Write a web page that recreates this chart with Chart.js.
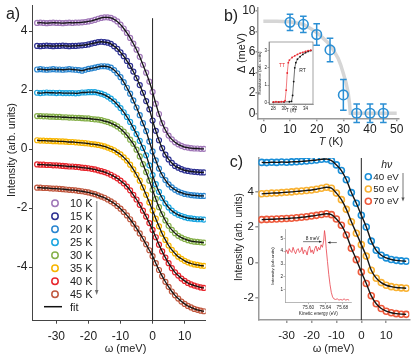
<!DOCTYPE html>
<html>
<head>
<meta charset="utf-8">
<title>Superconducting gap vs temperature</title>
<script src="https://cdn.jsdelivr.net/npm/chart.js@4.4.1/dist/chart.umd.min.js"></script>
<style>
  body { margin: 0; background: #fff; }
  #fig { position: relative; width: 415px; height: 359px; overflow: hidden; background: #fff;
         font-family: "Liberation Sans", Arial, sans-serif; color: #222; }
  #fig canvas, #fig svg { position: absolute; }
  .lbl { position: absolute; white-space: nowrap; line-height: 1; }
</style>
</head>
<body>
<div id="fig">
  <canvas id="chartA" width="211" height="359" style="left:0px;top:0px"></canvas>
  <canvas id="chartB" width="210" height="148" style="left:205px;top:0px"></canvas>
  <canvas id="insetB" width="62" height="80" style="left:255px;top:38px"></canvas>
  <canvas id="chartC" width="202" height="219" style="left:213px;top:140px"></canvas>
  <canvas id="insetC" width="92" height="90" style="left:263px;top:226px"></canvas>
  <svg id="deco" width="415" height="359" style="left:0px;top:0px"></svg>
</div>
<script>
// PANEL A - EDCs at several temperatures
const omegaA = [-36,-35,-34,-33,-32,-31,-30,-29,-28,-27,-26,-25,-24,-23,-22,-21,-20,-19,-18,-17,-16,-15,-14,-13,-12,-11,-10,-9,-8,-7,-6,-5,-4,-3,-2,-1,0,1,2,3,4,5,6,7,8,9,10,11,12,13,14,15,16];
const int10K = [4.28,4.29,4.28,4.27,4.28,4.29,4.28,4.28,4.27,4.28,4.29,4.28,4.29,4.29,4.30,4.31,4.33,4.35,4.38,4.42,4.45,4.47,4.47,4.45,4.40,4.33,4.22,4.09,3.94,3.77,3.58,3.37,3.13,2.86,2.59,2.29,1.94,1.54,1.19,0.88,0.65,0.46,0.33,0.23,0.16,0.11,0.07,0.05,0.03,0.02,0.02,0.01,0.01];
const int15K = [3.50,3.49,3.50,3.51,3.50,3.49,3.50,3.50,3.51,3.50,3.49,3.50,3.50,3.51,3.52,3.53,3.55,3.58,3.60,3.63,3.64,3.63,3.61,3.57,3.49,3.40,3.28,3.15,2.99,2.82,2.63,2.41,2.17,1.91,1.63,1.35,0.97,0.62,0.30,0.03,-0.19,-0.35,-0.47,-0.57,-0.63,-0.68,-0.72,-0.74,-0.76,-0.77,-0.78,-0.79,-0.79];
const int20K = [2.70,2.71,2.70,2.69,2.70,2.71,2.70,2.70,2.69,2.70,2.71,2.70,2.69,2.68,2.66,2.69,2.72,2.74,2.76,2.79,2.81,2.81,2.80,2.76,2.68,2.57,2.44,2.27,2.08,1.88,1.65,1.41,1.15,0.88,0.61,0.26,-0.08,-0.38,-0.66,-0.88,-1.05,-1.20,-1.30,-1.38,-1.44,-1.48,-1.52,-1.54,-1.56,-1.57,-1.58,-1.59,-1.59];
const int25K = [1.91,1.90,1.91,1.92,1.91,1.91,1.90,1.91,1.90,1.90,1.90,1.90,1.89,1.90,1.92,1.92,1.93,1.93,1.93,1.91,1.88,1.84,1.78,1.71,1.62,1.51,1.39,1.25,1.09,0.92,0.72,0.51,0.28,0.04,-0.21,-0.55,-0.88,-1.19,-1.45,-1.66,-1.84,-1.98,-2.09,-2.17,-2.23,-2.27,-2.31,-2.34,-2.35,-2.37,-2.38,-2.38,-2.39];
const int30K = [1.12,1.12,1.11,1.11,1.10,1.10,1.09,1.09,1.08,1.08,1.07,1.07,1.06,1.06,1.05,1.04,1.04,1.02,1.01,1.00,0.98,0.95,0.92,0.88,0.83,0.77,0.69,0.59,0.47,0.32,0.18,-0.02,-0.25,-0.51,-0.78,-1.07,-1.38,-1.69,-1.97,-2.21,-2.42,-2.60,-2.74,-2.85,-2.94,-3.00,-3.05,-3.09,-3.12,-3.14,-3.15,-3.16,-3.17];
const int35K = [0.30,0.29,0.29,0.28,0.28,0.27,0.27,0.26,0.26,0.25,0.24,0.24,0.23,0.22,0.21,0.20,0.19,0.17,0.16,0.14,0.12,0.09,0.05,0.01,-0.04,-0.11,-0.18,-0.28,-0.39,-0.53,-0.69,-0.87,-1.07,-1.30,-1.55,-1.81,-2.08,-2.36,-2.62,-2.87,-3.08,-3.27,-3.42,-3.54,-3.65,-3.72,-3.79,-3.84,-3.88,-3.91,-3.93,-3.95,-3.96];
const int40K = [-0.52,-0.53,-0.53,-0.54,-0.54,-0.55,-0.55,-0.56,-0.57,-0.58,-0.59,-0.59,-0.60,-0.61,-0.63,-0.64,-0.65,-0.67,-0.69,-0.72,-0.75,-0.78,-0.82,-0.87,-0.93,-0.99,-1.07,-1.16,-1.27,-1.40,-1.55,-1.71,-1.89,-2.09,-2.29,-2.51,-2.74,-2.99,-3.24,-3.47,-3.68,-3.87,-4.04,-4.18,-4.29,-4.39,-4.47,-4.54,-4.59,-4.63,-4.66,-4.69,-4.71];
const int45K = [-1.31,-1.31,-1.32,-1.32,-1.33,-1.34,-1.34,-1.35,-1.36,-1.37,-1.38,-1.39,-1.40,-1.42,-1.43,-1.45,-1.47,-1.50,-1.53,-1.57,-1.61,-1.65,-1.71,-1.77,-1.84,-1.93,-2.02,-2.13,-2.25,-2.38,-2.53,-2.69,-2.86,-3.04,-3.23,-3.43,-3.63,-3.87,-4.10,-4.31,-4.50,-4.67,-4.83,-4.96,-5.07,-5.17,-5.25,-5.32,-5.37,-5.42,-5.45,-5.48,-5.50];
const tempLabels = ['10 K','15 K','20 K','25 K','30 K','35 K','40 K','45 K'];
const tempColors = ['#a077b8','#2e3192','#2a86d0','#1ba5e0','#86b04a','#f7b500','#e8262d','#c0583f'];
const omegaTicksA = [-30,-20,-10,0,10];
const intTicksA = [-4,-2,0,2,4];
const zeroLineA = [-5.82, 4.44];

// PANEL B - gap vs T
const tempK = [10,15,20,25,30,35,40,45];
const gapMeV = [8.9,8.7,7.7,6.2,1.8,0,0,0];
const gapErr = [0.8,0.8,1.05,1.15,1.5,0.9,0.9,0.9];
const bcsT = [0,5,10,15,18,20,22,24,26,28,29,30,31,31.8,32.3,32.6,35,40,45,50];
const bcsGap = [9.0,9.0,8.95,8.7,8.25,7.9,7.45,6.95,6.3,5.4,4.75,3.9,3.0,2.0,1.0,0,0,0,0,0];
const tempTicksB = [0,10,20,30,40,50];
const gapTicksB = [0,2,4,6,8,10];

// inset of b - resistance
const ttT = [28,28.5,29,29.5,30,30.2,30.4,30.6,30.8,31,31.5,32,32.5,33,33.5,34,34.5,35];
const ttR = [0.02,0.03,0.02,0.03,0.04,0.1,0.7,1.7,2.3,2.45,2.6,2.7,2.78,2.85,2.9,2.95,3.0,3.02];
const rtT = [28,29,30,31,31.4,31.6,31.8,32,32.2,32.5,33,33.5,34,34.5,35];
const rtR = [0,0.01,0.02,0.03,0.05,0.4,1.2,2.0,2.3,2.5,2.65,2.78,2.88,2.95,3.0];

// PANEL C - photon energy dependence
const omegaC = [-40,-38,-36,-34,-32,-30,-28,-26,-24,-22,-20,-18,-16,-14,-12,-10,-8,-6,-4,-2,0,2,4,6,8,10,12,14,16,18];
const hv40 = [5.66,5.65,5.67,5.66,5.68,5.67,5.69,5.70,5.72,5.74,5.77,5.80,5.84,5.85,5.76,5.52,5.20,4.68,3.95,3.35,2.67,2.0,1.2,0.68,0.4,0.25,0.16,0.11,0.08,0.06];
const hv50 = [3.88,3.90,3.92,3.93,3.95,3.97,3.99,4.02,4.04,4.07,4.10,4.14,4.20,4.25,4.20,3.92,3.55,3.0,2.3,1.65,1.0,0.35,-0.45,-0.9,-1.15,-1.3,-1.38,-1.43,-1.45,-1.47];
const hv70 = [2.42,2.43,2.44,2.45,2.47,2.48,2.50,2.52,2.55,2.58,2.62,2.66,2.71,2.75,2.70,2.45,2.1,1.55,0.8,0.15,-0.55,-1.2,-1.9,-2.35,-2.62,-2.77,-2.86,-2.91,-2.94,-2.95];
const hvLabels = ['40 eV','50 eV','70 eV'];
const hvColors = ['#1a8fd8','#f9b233','#ee5a3c'];
const omegaTicksC = [-30,-20,-10,0,10];
const intTicksC = [-2,0,2,4];
const zeroLineC = [-3.27, 5.91];

// inset of c - spectrum
const keX = [75.546,75.549,75.552,75.555,75.558,75.561,75.564,75.567,75.570,75.573,75.576,75.579,75.582,75.585,75.588,75.591,75.594,75.597,75.600,75.603,75.606,75.609,75.612,75.615,75.618,75.621,75.624,75.627,75.630,75.633,75.636,75.638,75.640,75.642,75.645,75.648,75.651,75.654,75.657,75.660,75.664,75.668,75.672,75.676,75.680,75.684,75.688,75.692,75.696];
const keInt = [3.9,4.1,3.8,4.2,4.0,3.9,4.3,4.0,3.8,4.1,4.2,3.9,4.0,4.3,3.8,4.1,4.0,3.7,4.2,4.4,3.9,4.1,3.8,4.2,4.4,4.0,4.3,4.1,4.5,4.3,4.8,5.6,5.1,4.2,3.2,2.2,1.4,0.8,0.45,0.3,0.25,0.3,0.2,0.25,0.2,0.3,0.2,0.25,0.2];

Chart.defaults.font.family = '"Liberation Sans", Arial, sans-serif';
Chart.defaults.color = '#222';

const pts = (xs, ys) => xs.map((x, i) => ({ x: x, y: ys[i] }));

// axis with fixed box size and fixed ticks
function axis(o) {
  const a = {
    type: 'linear', min: o.min, max: o.max,
    afterBuildTicks: s => { s.ticks = o.ticks.map(v => ({ value: v })); },
    afterFit: s => {
      if (o.horizontal) s.height = o.size; else s.width = o.size;
      s.paddingTop = s.paddingBottom = s.paddingLeft = s.paddingRight = 0;
    },
    grid: { drawOnChartArea: false, tickLength: o.tickLen, color: o.line, lineWidth: o.width },
    border: { color: o.line, width: o.width },
    ticks: { font: { size: o.font }, padding: o.pad, color: '#222', maxRotation: 0 }
  };
  if (o.fmt) a.ticks.callback = o.fmt;
  if (o.title) a.title = o.title;
  return a;
}

function baseOptions(padding, scales, extra) {
  return Object.assign({
    responsive: false, animation: false, devicePixelRatio: 1,
    layout: { padding: padding },
    plugins: { legend: { display: false }, tooltip: { enabled: false } },
    scales: scales
  }, extra || {});
}

// CHART A
const seriesA = [int10K, int15K, int20K, int25K, int30K, int35K, int40K, int45K];
const dsA = [{
  data: [{ x: 0, y: zeroLineA[0] }, { x: 0, y: zeroLineA[1] }],
  showLine: true, borderColor: '#222', borderWidth: 1, pointRadius: 0, order: 0
}];
seriesA.forEach((vals, i) => {
  dsA.push({ data: pts(omegaA, vals), showLine: true, borderColor: '#151515', borderWidth: 1.3,
             pointRadius: 0, cubicInterpolationMode: 'monotone', order: 1 });
  dsA.push({ data: pts(omegaA, vals), showLine: false, pointRadius: 2.5, pointBorderWidth: 1.2,
             pointBorderColor: tempColors[i], pointBackgroundColor: 'rgba(255,255,255,0)', order: 2 });
});
new Chart(document.getElementById('chartA'), {
  type: 'scatter',
  data: { datasets: dsA },
  options: baseOptions({ top: 5, right: 0, left: 0, bottom: 0 }, {
    x: axis({ horizontal: true, min: -37.6, max: 16.6, ticks: omegaTicksA, size: 38.3, tickLen: 3, line: '#444', width: 1, font: 12, pad: 6 }),
    y: axis({ min: -5.82, max: 4.88, ticks: intTicksA, size: 32, tickLen: 3, line: '#444', width: 1, font: 12, pad: 1.5 })
  })
});

// CHART B
const errorBars = {
  id: 'errorBars',
  afterDatasetsDraw(chart) {
    const { ctx, scales: { x, y } } = chart;
    ctx.save();
    ctx.strokeStyle = '#2b8fd4';
    ctx.lineWidth = 1.5;
    tempK.forEach((t, i) => {
      const px = x.getPixelForValue(t);
      const top = y.getPixelForValue(gapMeV[i] + gapErr[i]);
      const bot = y.getPixelForValue(gapMeV[i] - gapErr[i]);
      ctx.beginPath();
      ctx.moveTo(px, top); ctx.lineTo(px, bot);
      ctx.moveTo(px - 3.3, top); ctx.lineTo(px + 3.3, top);
      ctx.moveTo(px - 3.3, bot); ctx.lineTo(px + 3.3, bot);
      ctx.stroke();
    });
    ctx.restore();
  }
};
new Chart(document.getElementById('chartB'), {
  type: 'scatter',
  data: { datasets: [
    { data: pts(bcsT, bcsGap), showLine: true, borderColor: '#d6d6d6', borderWidth: 3.5, pointRadius: 0, order: 2 },
    { data: pts(tempK, gapMeV), showLine: false, pointRadius: 4.8, pointBorderWidth: 1.6,
      pointBorderColor: '#2b8fd4', pointBackgroundColor: 'rgba(255,255,255,0)', order: 1 }
  ] },
  options: baseOptions({ top: 8, right: 16.7, left: 0, bottom: 0 }, {
    x: axis({ horizontal: true, min: -2, max: 50.6, ticks: tempTicksB, size: 29.7, tickLen: 3, line: '#9a9a9a', width: 1.5, font: 12, pad: 1.5 }),
    y: axis({ min: -0.49, max: 10.3, ticks: gapTicksB, size: 53, tickLen: 2.5, line: '#9a9a9a', width: 1.5, font: 12, pad: 0 })
  }),
  plugins: [errorBars]
});

// inset B - resistance
const frame = {
  id: 'frame',
  afterDraw(chart) {
    const { ctx, chartArea: a } = chart;
    ctx.save();
    ctx.strokeStyle = '#666';
    ctx.lineWidth = 0.6;
    ctx.strokeRect(a.left, a.top, a.right - a.left, a.bottom - a.top);
    ctx.restore();
  }
};
new Chart(document.getElementById('insetB'), {
  type: 'scatter',
  data: { datasets: [
    { data: pts(ttT, ttR), showLine: true, borderColor: '#e8262d', borderWidth: 0.6, pointRadius: 0.9,
      pointBackgroundColor: '#e8262d', pointBorderWidth: 0 },
    { data: pts(rtT, rtR), showLine: true, borderColor: '#111', borderWidth: 0.6, pointRadius: 0.9,
      pointBackgroundColor: '#111', pointBorderWidth: 0 }
  ] },
  options: baseOptions({ top: 3, right: 4, left: 0, bottom: 0 }, {
    x: axis({ horizontal: true, min: 27.2, max: 35.4, ticks: [28,30,32,34], size: 14, tickLen: 1.5, line: '#666', width: 0.6, font: 4.5, pad: 0.5,
              title: { display: true, text: 'T (K)', font: { size: 4.5 }, padding: { top: 0, bottom: 4.3 } } }),
    y: axis({ min: -0.1, max: 3.5, ticks: [0,1,2,3], size: 14, tickLen: 1.5, line: '#666', width: 0.6, font: 4.5, pad: 0.5,
              title: { display: true, text: 'Resistance (arb. units)', font: { size: 4.3 }, padding: { top: 2.3, bottom: 0 } } })
  }),
  plugins: [frame]
});

// CHART C
const seriesC = [hv40, hv50, hv70];
const dsC = [{
  data: [{ x: 0, y: zeroLineC[0] }, { x: 0, y: zeroLineC[1] }],
  showLine: true, borderColor: '#222', borderWidth: 1, pointRadius: 0, order: 0
}];
seriesC.forEach((vals, i) => {
  dsC.push({ data: pts(omegaC, vals), showLine: true, borderColor: '#151515', borderWidth: 1.4,
             pointRadius: 0, cubicInterpolationMode: 'monotone', order: 1 });
  dsC.push({ data: pts(omegaC, vals), showLine: false, pointRadius: 3, pointBorderWidth: 1.6,
             pointBorderColor: hvColors[i], pointBackgroundColor: 'rgba(255,255,255,0)', order: 2 });
});
new Chart(document.getElementById('chartC'), {
  type: 'scatter',
  data: { datasets: dsC },
  options: baseOptions({ top: 18, right: 5, left: 0, bottom: 0 }, {
    x: axis({ horizontal: true, min: -41.36, max: 19.3, ticks: omegaTicksC, size: 39, tickLen: 3, line: '#9a9a9a', width: 1.5, font: 11.5, pad: 5.5 }),
    y: axis({ min: -3.27, max: 5.91, ticks: intTicksC, size: 45.3, tickLen: 3, line: '#9a9a9a', width: 1.5, font: 11.5, pad: 1.5 })
  })
});

// inset C - spectrum with 8 meV marker
function arrow(ctx, x1, y1, x2, y2) {
  const dir = Math.sign(x2 - x1);
  ctx.beginPath(); ctx.moveTo(x1, y1); ctx.lineTo(x2, y2); ctx.stroke();
  ctx.beginPath(); ctx.moveTo(x2, y2); ctx.lineTo(x2 - dir * 2.5, y2 - 1.2); ctx.lineTo(x2 - dir * 2.5, y2 + 1.2); ctx.closePath(); ctx.fill();
}
const spectrumNote = {
  id: 'spectrumNote',
  afterDatasetsDraw(chart) {
    const { ctx, scales: { x, y } } = chart;
    ctx.save();
    ctx.strokeStyle = '#222'; ctx.fillStyle = '#222'; ctx.lineWidth = 0.6;
    arrow(ctx, x.getPixelForValue(75.5875), y.getPixelForValue(4.74), x.getPixelForValue(75.631), y.getPixelForValue(4.74));
    arrow(ctx, x.getPixelForValue(75.667), y.getPixelForValue(4.67), x.getPixelForValue(75.646), y.getPixelForValue(4.67));
    ctx.font = '4.8px "Liberation Sans", Arial, sans-serif';
    ctx.textAlign = 'center'; ctx.textBaseline = 'middle';
    ctx.fillText('8 meV', x.getPixelForValue(75.61), y.getPixelForValue(4.98));
    ctx.restore();
  }
};
new Chart(document.getElementById('insetC'), {
  type: 'scatter',
  data: { datasets: [
    { data: pts(keX, keInt), showLine: true, borderColor: '#e8404a', borderWidth: 0.8, pointRadius: 0 }
  ] },
  options: baseOptions({ top: 3.3, right: 3.3, left: 0, bottom: 0 }, {
    x: axis({ horizontal: true, min: 75.545, max: 75.702, ticks: [75.60,75.64,75.68], size: 13.3, tickLen: 1.5, line: '#888', width: 0.6, font: 4.6, pad: 0.5,
              fmt: v => v.toFixed(2),
              title: { display: true, text: 'Kinetic energy (eV)', font: { size: 4.6 }, padding: { top: 0, bottom: 0 } } }),
    y: axis({ min: 0, max: 5.7, ticks: [1,2,3,4,5], size: 22, tickLen: 1.5, line: '#888', width: 0.6, font: 4.6, pad: 0.5,
              title: { display: true, text: 'Intensity (arb.units)', font: { size: 4.4 }, padding: { top: 7.3, bottom: 0 } } })
  }),
  plugins: [spectrumNote]
});

// LABELS AND LEGENDS
const fig = document.getElementById('fig');
const svg = document.getElementById('deco');
function svgEl(tag, attrs) {
  const e = document.createElementNS('http://www.w3.org/2000/svg', tag);
  for (const k in attrs) e.setAttribute(k, attrs[k]);
  svg.appendChild(e);
  return e;
}
function text(str, x, y, size, opt) {
  opt = opt || {};
  const d = document.createElement('div');
  d.className = 'lbl';
  d.innerHTML = str;
  d.style.left = x + 'px';
  d.style.top = y + 'px';
  d.style.fontSize = size + 'px';
  if (opt.color) d.style.color = opt.color;
  const ax = opt.align === 'left' ? '0' : '-50%';
  d.style.transform = 'translate(' + ax + ',-50%)' + (opt.rotate ? ' rotate(-90deg)' : '');
  fig.appendChild(d);
}

// panel labels + axis titles
text('a)', 13, 13.5, 16);
text('Intensity (arb. units)', 10.5, 150, 10.7, { rotate: true });
text('ω (meV)', 125.5, 348, 11);
text('b)', 231, 15.5, 16);
text('Δ (meV)', 240.5, 53, 11, { rotate: true });
text('<i>T</i> (K)', 331, 141, 11);
text('TT', 282, 65, 5, { color: '#e8262d' });
text('RT', 302.5, 70, 5);
text('c)', 236.5, 161.5, 16);
text('Intensity (arb. units)', 239, 237, 10, { rotate: true });
text('ω (meV)', 333.5, 348.3, 11);

// legend a
tempLabels.forEach((lab, i) => {
  const y = 203.3 + i * 13;
  svgEl('circle', { cx: 55, cy: y, r: 3.2, fill: 'none', stroke: tempColors[i], 'stroke-width': 1.5 });
  text(lab, 70, y, 11, { align: 'left' });
});
svgEl('line', { x1: 44, y1: 306.7, x2: 62, y2: 306.7, stroke: '#111', 'stroke-width': 1.5 });
text('fit', 70, 306.7, 11, { align: 'left' });
svgEl('line', { x1: 96.7, y1: 201, x2: 96.7, y2: 291, stroke: '#a0a0a0', 'stroke-width': 1.5 });
svgEl('polygon', { points: '94.9,290 98.5,290 96.7,295', fill: '#707070' });

// legend c
text('<i>hν</i>', 386.7, 164, 10.5);
hvLabels.forEach((lab, i) => {
  const y = 176.7 + i * 12.3;
  svgEl('circle', { cx: 368.3, cy: y, r: 3, fill: 'none', stroke: hvColors[i], 'stroke-width': 1.6 });
  text(lab, 373.3, y, 9.8, { align: 'left' });
});
svgEl('line', { x1: 403, y1: 173, x2: 403, y2: 198, stroke: '#777', 'stroke-width': 1 });
svgEl('polygon', { points: '401.4,197.5 404.6,197.5 403,201.5', fill: '#555' });
</script>
</body>
</html>
